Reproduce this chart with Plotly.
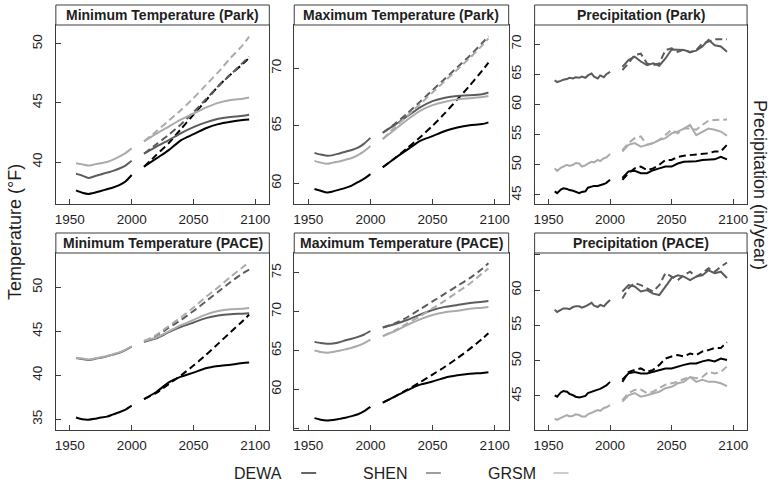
import plotly.graph_objects as go

# ---------------- data ----------------
PARKS = ["DEWA", "SHEN", "GRSM"]
T_HIST_YEARS = [1955, 1960, 1965, 1970, 1975, 1980, 1985, 1990, 1995, 2000]
T_FUT_YEARS = [2010, 2020, 2030, 2040, 2050, 2060, 2070, 2080, 2090, 2095]
P_HIST_YEARS = [1955, 1957, 1960, 1962, 1965, 1967, 1970, 1972, 1975, 1977,
                1980, 1982, 1985, 1987, 1990, 1992, 1995, 1997, 2000]
P_FUT_YEARS = [2010, 2015, 2020, 2025, 2030, 2035, 2040, 2045, 2050, 2055,
               2060, 2065, 2070, 2075, 2080, 2085, 2090, 2095]

# Minimum temperature (Park)
tmin_park_hist = {
    "DEWA": [37.6, 37.4, 37.3, 37.4, 37.55, 37.7, 37.85, 38.05, 38.35, 38.9],
    "SHEN": [39.0, 38.85, 38.65, 38.8, 38.95, 39.1, 39.25, 39.45, 39.7, 40.1],
    "GRSM": [39.9, 39.8, 39.7, 39.8, 39.9, 40.0, 40.2, 40.45, 40.75, 41.15],
}
tmin_park_low = {
    "DEWA": [39.6, 40.3, 41.0, 41.85, 42.35, 42.85, 43.2, 43.4, 43.55, 43.6],
    "SHEN": [40.7, 41.3, 41.85, 42.45, 42.95, 43.35, 43.65, 43.8, 43.9, 44.0],
    "GRSM": [41.75, 42.4, 43.0, 43.6, 44.1, 44.6, 45.0, 45.25, 45.35, 45.45],
}
tmin_park_high = {
    "DEWA": [39.6, 40.6, 41.6, 42.8, 44.0, 45.2, 46.4, 47.4, 48.3, 48.8],
    "SHEN": [40.7, 41.5, 42.3, 43.2, 44.2, 45.3, 46.4, 47.4, 48.4, 48.9],
    "GRSM": [41.75, 42.6, 43.5, 44.4, 45.4, 46.5, 47.6, 48.8, 49.9, 50.6],
}

# Maximum temperature (Park)
tmax_park_hist = {
    "DEWA": [59.5, 59.35, 59.2, 59.3, 59.45, 59.6, 59.8, 60.1, 60.4, 60.8],
    "SHEN": [62.65, 62.5, 62.4, 62.45, 62.6, 62.75, 62.9, 63.1, 63.45, 63.95],
    "GRSM": [61.95, 61.8, 61.7, 61.8, 61.9, 62.05, 62.2, 62.45, 62.8, 63.25],
}
tmax_park_low = {
    "DEWA": [61.4, 62.2, 62.95, 63.7, 64.1, 64.55, 64.85, 65.05, 65.15, 65.3],
    "SHEN": [64.4, 65.1, 65.85, 66.6, 67.15, 67.45, 67.6, 67.65, 67.75, 67.9],
    "GRSM": [63.85, 64.7, 65.55, 66.3, 66.8, 67.1, 67.3, 67.4, 67.5, 67.6],
}
tmax_park_high = {
    "DEWA": [61.4, 62.2, 63.1, 64.0, 65.0, 66.1, 67.3, 68.5, 69.8, 70.5],
    "SHEN": [64.4, 65.2, 66.1, 67.1, 68.1, 69.1, 70.1, 71.1, 72.2, 72.8],
    "GRSM": [63.85, 64.9, 65.9, 66.9, 67.9, 68.9, 69.9, 70.9, 72.0, 72.6],
}

# Precipitation (Park)
prcp_park_hist = {
    "DEWA": [45.6, 45.3, 45.9, 46.1, 46.0, 45.8, 45.7, 45.5, 45.3, 45.5,
             45.6, 46.2, 46.4, 46.5, 46.5, 46.6, 46.8, 47.0, 47.5],
    "SHEN": [64.0, 63.7, 63.9, 64.1, 64.2, 64.4, 64.3, 64.5, 64.4, 64.6,
             64.4, 64.8, 65.1, 64.6, 64.3, 64.8, 64.5, 65.0, 65.4],
    "GRSM": [49.4, 49.0, 49.5, 49.7, 50.0, 49.8, 50.0, 50.3, 50.2, 49.7,
             49.9, 50.2, 50.5, 50.4, 50.8, 50.6, 51.1, 51.2, 51.8],
}
prcp_park_low = {
    "DEWA": [47.8, 48.9, 49.0, 48.6, 48.6, 49.1, 49.4, 49.7, 49.7, 50.2,
             50.5, 50.5, 50.6, 50.8, 50.9, 50.9, 51.3, 50.9],
    "SHEN": [66.2, 67.35, 67.9, 67.1, 66.5, 66.8, 66.4, 67.6, 69.1, 69.0,
             69.0, 68.7, 68.9, 69.6, 70.7, 69.8, 69.6, 68.7],
    "GRSM": [52.2, 53.3, 53.6, 53.0, 53.3, 53.6, 54.1, 54.4, 55.2, 55.5,
             56.0, 56.6, 54.9, 55.5, 56.0, 55.8, 55.5, 54.8],
}
prcp_park_high = {
    "DEWA": [47.5, 48.6, 49.4, 49.7, 49.1, 49.4, 50.0, 50.8, 50.8, 51.3,
             51.5, 51.6, 51.6, 51.8, 51.9, 52.2, 52.2, 53.3],
    "SHEN": [65.7, 66.8, 68.2, 68.4, 66.8, 66.5, 66.8, 69.0, 69.3, 68.7,
             69.1, 68.6, 69.0, 70.1, 70.4, 70.8, 70.8, 70.8],
    "GRSM": [52.4, 53.6, 54.4, 54.7, 53.3, 53.6, 54.1, 54.9, 55.8, 55.2,
             56.0, 56.0, 55.8, 56.6, 57.3, 57.4, 57.4, 57.5],
}

# Minimum temperature (PACE)
tmin_pace_hist = {
    "DEWA": [35.2, 35.0, 34.95, 35.05, 35.2, 35.3, 35.55, 35.8, 36.1, 36.55],
    "SHEN": [41.95, 41.85, 41.75, 41.85, 42.0, 42.15, 42.35, 42.55, 42.85, 43.25],
    "GRSM": [42.0, 41.9, 41.8, 41.9, 42.05, 42.2, 42.4, 42.6, 42.9, 43.3],
}
tmin_pace_low = {
    "DEWA": [37.3, 38.1, 39.2, 39.85, 40.3, 40.8, 41.05, 41.2, 41.4, 41.45],
    "SHEN": [43.8, 44.2, 44.9, 45.5, 46.0, 46.5, 46.8, 46.95, 47.0, 47.05],
    "GRSM": [43.9, 44.3, 45.0, 45.7, 46.3, 46.9, 47.3, 47.5, 47.55, 47.65],
}
tmin_pace_high = {
    "DEWA": [37.3, 38.0, 39.0, 40.0, 41.1, 42.3, 43.6, 44.9, 46.2, 46.9],
    "SHEN": [43.8, 44.5, 45.4, 46.3, 47.3, 48.4, 49.5, 50.6, 51.6, 52.0],
    "GRSM": [43.9, 44.6, 45.6, 46.6, 47.7, 48.9, 50.0, 51.2, 52.3, 52.85],
}

# Maximum temperature (PACE)
tmax_pace_hist = {
    "DEWA": [56.3, 56.1, 56.0, 56.05, 56.2, 56.35, 56.55, 56.8, 57.2, 57.75],
    "SHEN": [66.1, 65.95, 65.85, 65.9, 66.05, 66.3, 66.5, 66.75, 67.05, 67.5],
    "GRSM": [65.0, 64.8, 64.7, 64.8, 64.95, 65.15, 65.35, 65.6, 65.95, 66.4],
}
tmax_pace_low = {
    "DEWA": [58.3, 59.1, 59.9, 60.6, 61.0, 61.5, 61.8, 62.0, 62.1, 62.2],
    "SHEN": [67.95, 68.4, 68.95, 69.6, 70.2, 70.6, 70.85, 71.1, 71.25, 71.35],
    "GRSM": [66.85, 67.5, 68.3, 69.0, 69.55, 69.9, 70.1, 70.35, 70.5, 70.6],
}
tmax_pace_high = {
    "DEWA": [58.3, 59.1, 60.0, 60.9, 61.9, 62.9, 64.0, 65.2, 66.5, 67.2],
    "SHEN": [67.95, 68.5, 69.3, 70.3, 71.3, 72.3, 73.3, 74.3, 75.5, 76.2],
    "GRSM": [66.85, 67.6, 68.5, 69.4, 70.4, 71.4, 72.5, 73.6, 74.9, 75.55],
}

# Precipitation (PACE)
prcp_pace_hist = {
    "DEWA": [45.1, 44.9, 45.5, 45.7, 45.6, 45.3, 45.1, 44.9, 44.8, 44.9,
             45.0, 45.4, 45.6, 45.8, 45.9, 46.0, 46.3, 46.5, 47.0],
    "SHEN": [57.2, 56.9, 57.2, 57.4, 57.4, 57.3, 57.6, 57.7, 57.7, 57.5,
             57.7, 57.9, 58.2, 57.8, 57.6, 57.9, 57.7, 58.1, 58.6],
    "GRSM": [41.8, 41.6, 41.9, 42.1, 42.3, 42.1, 42.2, 42.4, 42.3, 42.1,
             42.1, 42.4, 42.6, 42.7, 43.0, 42.9, 43.3, 43.4, 43.7],
}
prcp_pace_low = {
    "DEWA": [47.3, 48.2, 48.4, 48.2, 48.2, 48.4, 48.7, 48.9, 48.9, 49.2,
             49.4, 49.6, 49.6, 49.9, 50.1, 49.9, 50.3, 50.1],
    "SHEN": [59.8, 60.7, 60.5, 59.8, 60.0, 59.5, 59.3, 60.5, 61.7, 62.1,
             61.9, 61.4, 61.9, 62.1, 62.8, 62.4, 62.6, 61.7],
    "GRSM": [44.2, 45.1, 45.4, 44.9, 45.1, 45.4, 45.6, 46.1, 46.3, 46.8,
             47.0, 47.7, 47.0, 47.3, 47.0, 47.0, 46.8, 46.4],
}
prcp_pace_high = {
    "DEWA": [47.0, 48.4, 48.7, 48.9, 48.4, 48.7, 49.4, 50.3, 50.6, 50.8,
             50.6, 51.0, 50.8, 51.3, 51.5, 51.8, 51.8, 52.6],
    "SHEN": [58.8, 60.25, 61.0, 60.7, 60.25, 59.8, 60.7, 62.4, 61.9, 61.4,
             62.1, 62.6, 61.9, 62.4, 63.1, 62.6, 63.3, 63.9],
    "GRSM": [44.4, 45.4, 45.85, 45.9, 45.4, 45.6, 46.1, 46.6, 46.8, 47.0,
             47.4, 47.7, 47.5, 47.7, 48.4, 48.2, 48.4, 49.2],
}

PANEL_TITLES = ["Minimum Temperature (Park)", "Maximum Temperature (Park)", "Precipitation (Park)",
                "Minimum Temperature (PACE)", "Maximum Temperature (PACE)", "Precipitation (PACE)"]
X_TICKS = [1950, 2000, 2050, 2100]
Y_TICKS = [[40, 45, 50], [60, 65, 70], [45, 50, 55, 60, 65, 70],
           [35, 40, 45, 50], [55, 60, 65, 70, 75], [45, 50, 55, 60, 65]]
Y_TICKTEXT = [["40", "45", "50"], ["60", "65", "70"], ["45", "50", "55", "60", "65", "70"],
              ["35", "40", "45", "50"], ["", "60", "65", "70", "75"], ["45", "50", "55", "60", ""]]
Y_RANGES = [[36.45, 51.58], [58.2, 73.77], [43.5, 73.15],
            [33.78, 53.9], [54.77, 77.53], [40.18, 65.25]]
X_RANGE = [1938.7, 2111.3]

COLORS = {"DEWA": "#000000", "SHEN": "#5c5c5c", "GRSM": "#ababab"}

panels = [
    (T_HIST_YEARS, T_FUT_YEARS, tmin_park_hist, tmin_park_low, tmin_park_high, "spline"),
    (T_HIST_YEARS, T_FUT_YEARS, tmax_park_hist, tmax_park_low, tmax_park_high, "spline"),
    (P_HIST_YEARS, P_FUT_YEARS, prcp_park_hist, prcp_park_low, prcp_park_high, "linear"),
    (T_HIST_YEARS, T_FUT_YEARS, tmin_pace_hist, tmin_pace_low, tmin_pace_high, "spline"),
    (T_HIST_YEARS, T_FUT_YEARS, tmax_pace_hist, tmax_pace_low, tmax_pace_high, "spline"),
    (P_HIST_YEARS, P_FUT_YEARS, prcp_pace_hist, prcp_pace_low, prcp_pace_high, "linear"),
]

# ---------------- layout (pixel geometry) ----------------
W, H = 770, 486
COLS = [(55, 269), (294, 509), (535, 748)]
ROWS = [(25, 204), (253, 430)]
STRIPS = [(5, 25), (233, 253)]


def px(x):
    return x / W


def py(y):
    return 1 - y / H


AX = "#3c3c3c"
TXT = "#1e1e1e"
FONT = "Liberation Sans, Arial, sans-serif"

fig = go.Figure()
shapes = []
annotations = []
layout_axes = {}

for i, (hy, fy, hist, low, high, shape) in enumerate(panels):
    r, c = divmod(i, 3)
    n = i + 1
    xa = "x" if n == 1 else f"x{n}"
    ya = "y" if n == 1 else f"y{n}"
    for park in PARKS:
        col = COLORS[park]
        line_kw = dict(color=col, width=2)
        if shape == "spline":
            line_kw.update(shape="spline", smoothing=0.6)
        fig.add_trace(go.Scatter(x=hy, y=hist[park], mode="lines", line=line_kw,
                                 xaxis=xa, yaxis=ya, showlegend=False, hoverinfo="skip"))
        fig.add_trace(go.Scatter(x=fy, y=high[park], mode="lines",
                                 line=dict(line_kw, dash="7px,4px"),
                                 xaxis=xa, yaxis=ya, showlegend=False, hoverinfo="skip"))
        fig.add_trace(go.Scatter(x=fy, y=low[park], mode="lines", line=line_kw,
                                 xaxis=xa, yaxis=ya, showlegend=False, hoverinfo="skip"))

    x0, x1 = COLS[c]
    y0, y1 = ROWS[r]
    xkey = "xaxis" if n == 1 else f"xaxis{n}"
    ykey = "yaxis" if n == 1 else f"yaxis{n}"
    layout_axes[xkey] = dict(
        domain=[px(x0), px(x1)], anchor=ya, range=X_RANGE,
        tickvals=X_TICKS, ticktext=[str(t) for t in X_TICKS],
        showline=True, mirror=True, linecolor=AX, linewidth=1,
        ticks="inside", ticklen=5, tickcolor=AX, tickwidth=1,
        showgrid=False, zeroline=False, ticklabelstandoff=3,
        tickfont=dict(size=13.5, color=TXT, family=FONT),
    )
    layout_axes[ykey] = dict(
        domain=[py(y1), py(y0)], anchor=xa, range=Y_RANGES[i],
        tickvals=Y_TICKS[i], ticktext=Y_TICKTEXT[i], tickangle=-90,
        showline=True, mirror=True, linecolor=AX, linewidth=1,
        ticks="inside", ticklen=5, tickcolor=AX, tickwidth=1,
        showgrid=False, zeroline=False, ticklabelstandoff=7,
        tickfont=dict(size=13.5, color=TXT, family=FONT),
    )
    s0, s1 = STRIPS[r]
    shapes.append(dict(type="rect", xref="paper", yref="paper",
                       x0=px(x0), x1=px(x1), y0=py(s1), y1=py(s0),
                       line=dict(color=AX, width=1), fillcolor="white"))
    annotations.append(dict(text="<b>" + PANEL_TITLES[i] + "</b>", xref="paper", yref="paper",
                            x=px((x0 + x1) / 2), y=py((s0 + s1) / 2), showarrow=False,
                            xanchor="center", yanchor="middle",
                            font=dict(size=14, color=TXT, family=FONT)))

# axis titles
annotations.append(dict(text="Temperature (°F)", xref="paper", yref="paper",
                        x=px(14), y=py(232), textangle=-90, showarrow=False,
                        xanchor="center", yanchor="middle",
                        font=dict(size=18, color=TXT, family=FONT)))
annotations.append(dict(text="Precipitation (in/year)", xref="paper", yref="paper",
                        x=px(761), y=py(185), textangle=90, showarrow=False,
                        xanchor="center", yanchor="middle",
                        font=dict(size=18, color=TXT, family=FONT)))

# legend (text + short line key)
LEG = [("DEWA", 258, 301, 316), ("SHEN", 385, 426, 441), ("GRSM", 512, 554, 569)]
for name, tx, l0, l1 in LEG:
    annotations.append(dict(text=name, xref="paper", yref="paper", x=px(tx), y=py(473),
                            showarrow=False, xanchor="center", yanchor="middle",
                            font=dict(size=16, color=TXT, family=FONT)))
    shapes.append(dict(type="line", xref="paper", yref="paper", x0=px(l0), x1=px(l1),
                       y0=py(473), y1=py(473), line=dict(color=COLORS[name], width=1.2)))

fig.update_layout(
    width=W, height=H, margin=dict(l=0, r=0, t=0, b=0),
    paper_bgcolor="white", plot_bgcolor="white", showlegend=False,
    font=dict(family=FONT, color=TXT), shapes=shapes, annotations=annotations,
    **layout_axes,
)

fig.write_html("out.html")
